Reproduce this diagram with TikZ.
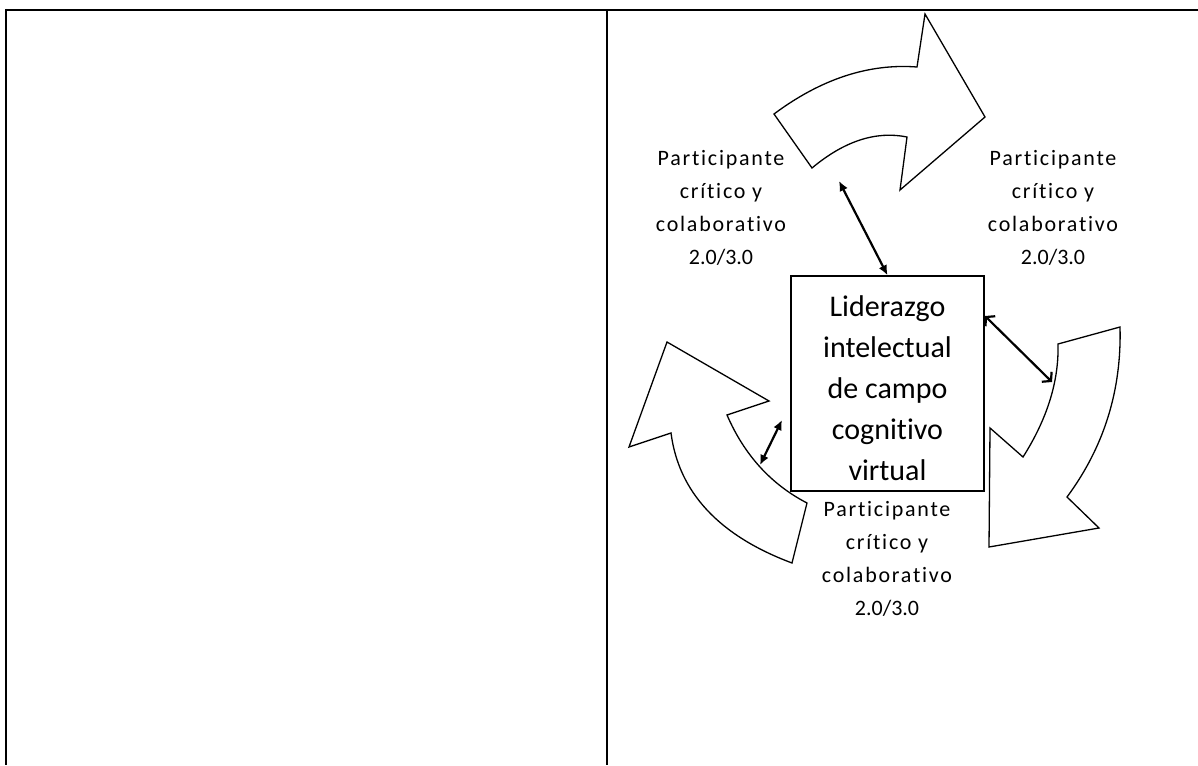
\documentclass[tikz,border=0pt]{standalone}
\usepackage{fontspec}
\setmainfont{Carlito}[RawFeature={-liga}]
\newfontfamily\spacedfont{Carlito}[LetterSpace=8,RawFeature={-liga}]
\usetikzlibrary{arrows.meta}
\newcommand{\plainver}{{\rmfamily 2.0/3.0}}
\begin{document}
\begin{tikzpicture}[x=1pt,y=-1pt,
  arrowshape/.style={draw=black,line width=1.3pt,fill=white,line join=miter},
  lbl/.style={align=center,font=\spacedfont\fontsize{22}{33}\selectfont,inner sep=0pt},
  boxtext/.style={align=center,font=\fontsize{30}{41}\selectfont,inner sep=0pt},
  dblf/.style={line width=2.2pt,{Latex[length=10pt,width=9pt]}-{Latex[length=10pt,width=9pt]}},
  dblo/.style={line width=2.2pt,{Straight Barb[length=6pt,width=14pt]}-{Straight Barb[length=6pt,width=14pt]}},
  rulethick/.style={line width=2pt},
  rulethin/.style={line width=1.5pt}]
\useasboundingbox (0,0) rectangle (1198,765);
% table
\draw[rulethick] (5,10) -- (1198,10);
\draw[rulethick] (6,9) -- (6,765);
\draw[rulethin] (607,10) -- (607,765);
% top curved arrow
\draw[arrowshape] (774,114) .. controls (821,79) and (868.7,63.3) .. (917,67) -- (925,14) -- (985,117) -- (900,190) -- (907,137) .. controls (876,130.7) and (844.3,141) .. (812,168) -- cycle;
% right curved arrow
\draw[arrowshape] (1058,344) .. controls (1059,381) and (1047.3,418.7) .. (1023,457) -- (990,428) -- (989,547) -- (1099,528) -- (1067,497) .. controls (1104,447) and (1121.7,390.3) .. (1120,327) -- cycle;
% left curved arrow
\draw[arrowshape] (807,503) .. controls (771,484.3) and (744.3,455) .. (727,415) -- (769,401) -- (667,342) -- (629,447) -- (671,433) .. controls (678.7,492.3) and (719,535.7) .. (792,563) -- cycle;
% central box
\node[draw,line width=1.5pt,minimum width=193pt,minimum height=215pt,inner sep=0pt] (box) at (887.5,383.5) {};
\node[boxtext] (boxlabel) at (887.5,388) {Liderazgo\\intelectual\\de campo\\cognitivo\\virtual};
% labels
\node[lbl] (l1) at (721,208) {Participante\\crítico y\\colaborativo\\\plainver};
\node[lbl] (l2) at (1053,208) {Participante\\crítico y\\colaborativo\\\plainver};
\node[lbl] (l3) at (887,559) {Participante\\crítico y\\colaborativo\\\plainver};
% connectors
\coordinate (ta) at (839,181);
\coordinate (rb) at (985,316);
\coordinate (ra) at (1052,382);
\coordinate (la) at (760,465);
\coordinate (lb) at (782,420);
\draw[dblf] (ta) -- (box.north);
\draw[dblo] (rb) -- (ra);
\draw[dblf] (la) -- (lb);
\end{tikzpicture}
\end{document}
